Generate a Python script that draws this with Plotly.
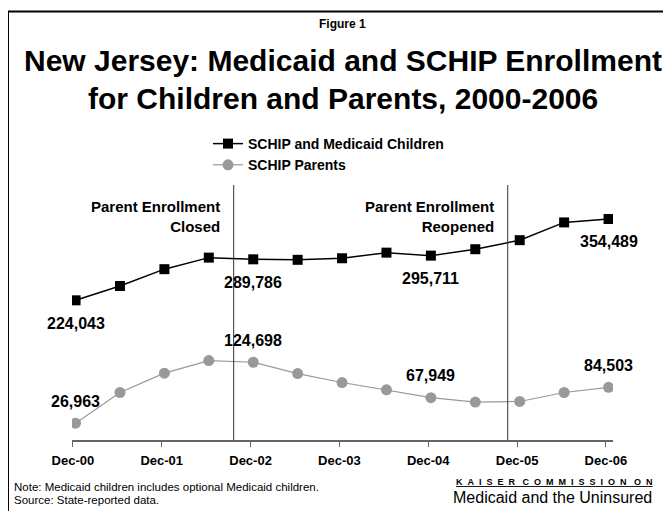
import plotly.graph_objects as go

# ---- data ----
periods = ["Dec-00", "Jun-01", "Dec-01", "Jun-02", "Dec-02", "Jun-03", "Dec-03",
           "Jun-04", "Dec-04", "Jun-05", "Dec-05", "Jun-06", "Dec-06"]
children = [224043, 247000, 274000, 292500, 289786, 289000, 291500,
            300500, 295711, 306000, 320500, 349000, 354489]
parents = [26963, 76200, 107200, 127400, 124698, 106600, 92200,
           80500, 67949, 60800, 61800, 76200, 84503]
tick_labels = ["Dec-00", "Dec-01", "Dec-02", "Dec-03", "Dec-04", "Dec-05", "Dec-06"]
labeled_children = [0, 4, 8, 12]   # indices with value labels
labeled_parents = [0, 4, 8, 12]
event_x = [3.56, 9.73]             # Parent enrollment closed / reopened
event_text = ["Parent Enrollment<br>Closed", "Parent Enrollment<br>Reopened"]

xs = list(range(len(periods)))
FONT = "Liberation Sans, Arial, sans-serif"

W, H = 671, 511
OFF = 8                          # page body margin
L, R, T, B = 72, 613, 185, 440   # plot area in screenshot px


def px(x):
    return (x - L) / (R - L)


def py(y):
    return (B - y) / (B - T)


fig = go.Figure()
fig.add_trace(go.Scatter(
    x=xs, y=children, mode="lines+markers", name="<b>SCHIP and Medicaid Children</b>",
    line=dict(color="black", width=1.5),
    marker=dict(symbol="square", size=10, color="black"),
))
fig.add_trace(go.Scatter(
    x=xs, y=parents, mode="lines+markers", name="<b>SCHIP Parents</b>",
    line=dict(color="#999999", width=1.2),
    marker=dict(symbol="circle", size=11, color="#999999"),
))

annotations = []
for i in labeled_children:
    annotations.append(dict(x=xs[i], y=children[i], xref="x", yref="y",
                            text=f"<b>{children[i]:,}</b>", showarrow=False,
                            yshift=-23, font=dict(size=16, color="black", family=FONT)))
for i in labeled_parents:
    annotations.append(dict(x=xs[i], y=parents[i], xref="x", yref="y",
                            text=f"<b>{parents[i]:,}</b>", showarrow=False,
                            yshift=22, font=dict(size=16, color="black", family=FONT)))

shapes = []
for ex, et in zip(event_x, event_text):
    shapes.append(dict(type="line", xref="x", yref="paper", x0=ex, x1=ex, y0=0, y1=1,
                       line=dict(color="#333333", width=1)))
    annotations.append(dict(x=ex, y=1, xref="x", yref="paper", xanchor="right", yanchor="top",
                            xshift=-12, yshift=-11, align="right", showarrow=False,
                            text=f"<b>{et}</b>", font=dict(size=15, color="black", family=FONT)))


def label(x, y, text, size, xanchor="center", bold=False):
    annotations.append(dict(x=px(x), y=py(y), xref="paper", yref="paper", showarrow=False,
                            xanchor=xanchor, yanchor="middle",
                            text=f"<b>{text}</b>" if bold else text,
                            font=dict(size=size, color="black", family=FONT)))


# titles
label(342, 24, "Figure 1", 12, bold=True)
label(343, 61, "New Jersey: Medicaid and SCHIP Enrollment", 30, bold=True)
label(343, 98, "for Children and Parents, 2000-2006", 30, bold=True)
# footer
label(12, 487, "Note: Medicaid children includes optional Medicaid children.", 11.5, xanchor="left")
label(12, 500, "Source: State-reported data.", 11.5, xanchor="left")
sp2 = "&nbsp;&nbsp;"
kaiser = (sp2 + "&nbsp;").join(sp2.join(w) for w in ["KAISER", "COMMISSION", "ON"])
label(655, 482, f"<u>{kaiser}</u>", 9, xanchor="right", bold=True)
label(654, 497, "Medicaid and the Uninsured", 16, xanchor="right")

# frame (top and left edges visible)
shapes.append(dict(type="line", xref="paper", yref="paper", x0=px(8), x1=px(700),
                   y0=py(11.5), y1=py(11.5), line=dict(color="black", width=2)))
shapes.append(dict(type="line", xref="paper", yref="paper", x0=px(8), x1=px(8),
                   y0=py(11.5), y1=py(530), line=dict(color="black", width=2)))

fig.update_layout(
    width=W, height=H,
    margin=dict(l=L - OFF, r=W - (R - OFF), t=T - OFF, b=H - (B - OFF), autoexpand=False),
    paper_bgcolor="white", plot_bgcolor="white",
    font=dict(family=FONT, color="black"),
    showlegend=True,
    legend=dict(x=px(208), y=py(128), xanchor="left", yanchor="top",
                bgcolor="rgba(0,0,0,0)", font=dict(size=14, family=FONT),
                tracegroupgap=0, itemwidth=30),
    annotations=annotations,
    shapes=shapes,
)
fig.update_xaxes(range=[-0.08, 12.1], showgrid=False, zeroline=False,
                 showline=True, linecolor="#666666", linewidth=1.5,
                 tickmode="array", tickvals=[i - 0.06 for i in range(0, 13, 2)],
                 ticktext=[f"<b>{t}</b>" for t in tick_labels],
                 ticks="outside", ticklen=5, tickcolor="#666666", ticklabelstandoff=3,
                 tickfont=dict(size=13, family=FONT, color="black"))
fig.update_yaxes(range=[0, 409000], visible=False, showgrid=False, zeroline=False)

fig.write_html("out.html")
